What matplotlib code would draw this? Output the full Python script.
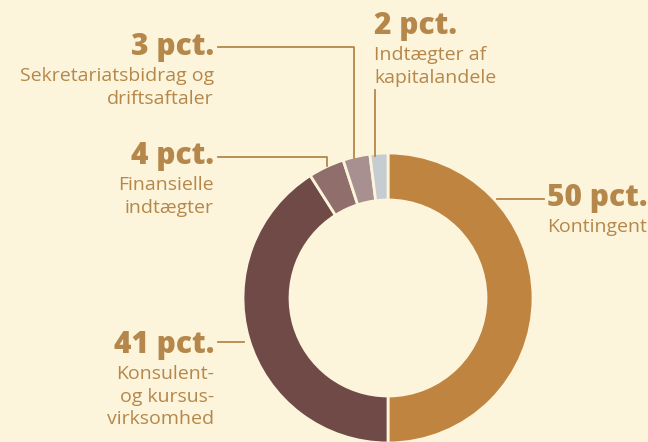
import matplotlib.pyplot as plt

# share of income, clockwise from 12 o'clock
values = [50, 41, 4, 3, 2]
pct_labels = ["50 pct.", "41 pct.", "4 pct.", "3 pct.", "2 pct."]
names = ["Kontingent", "Konsulent-\nog kursus-\nvirksomhed", "Finansielle\nindtægter",
         "Sekretariatsbidrag og\ndriftsaftaler", "Indtægter af\nkapitalandele"]
colors = ["#C08441", "#6F4A47", "#8F6E6B", "#A89090", "#C5CDD0"]

bg = "#FCF5DC"
txt = "#B5874A"
W, H = 648, 442

fig = plt.figure(figsize=(6.48, 4.42), dpi=100, facecolor=bg)
ax = fig.add_axes([0, 0, 1, 1])

def py(y):
    # pixel row -> data y
    return H - y

ax.pie(values, colors=colors, startangle=90, counterclock=False,
       center=(388, py(298)), radius=145, frame=True,
       wedgeprops=dict(width=47, edgecolor=bg, linewidth=2))
ax.set_xlim(0, W)
ax.set_ylim(0, H)
ax.set_aspect("equal")
ax.axis("off")

font = "Open Sans"
# big number position (x, center y in pixels), alignment
layout = [
    (547, 198, "left"),
    (214, 345, "right"),
    (214, 156, "right"),
    (214, 47, "right"),
    (374, 26, "left"),
]
leaders = [
    [(497, 199), (544, 199)],
    [(218, 342), (244, 342)],
    [(218, 157), (327, 157), (327, 166)],
    [(218, 47), (354, 47), (354, 158)],
    [(375, 90), (375, 156)],
]

for (x, y, ha), pl, nm, ln in zip(layout, pct_labels, names, leaders):
    ax.text(x, py(y), pl, ha=ha, va="center", fontsize=21.5, fontweight="heavy",
            color=txt, family=font)
    ax.text(x, py(y + 20), nm, ha=ha, va="top", fontsize=14, color=txt,
            family=font, linespacing=1.33)
    xs = [p[0] for p in ln]
    ys = [py(p[1]) for p in ln]
    ax.plot(xs, ys, color=txt, lw=1.3)

fig.savefig("out.png", dpi=100, facecolor=bg)
